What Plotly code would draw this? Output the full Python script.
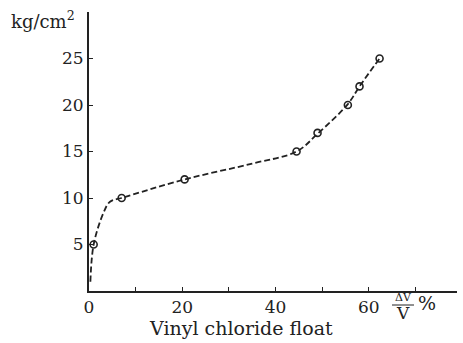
import plotly.graph_objects as go

# measured points (open circles)
pt_x = [1, 7, 20.5, 44.5, 49, 55.5, 58, 62.3]
pt_y = [5, 10, 12, 15, 17, 20, 22, 25]
# dashed curve
curve_x = [0.3, 1, 3.1, 4.5, 7, 20.5, 35, 44.5, 49, 55.5, 58, 62.3]
curve_y = [1.0, 5, 8.4, 9.6, 10, 12, 13.7, 15, 16.9, 20.1, 22, 25]

x_ticks = [0, 20, 40, 60]
x_ticklabels = ["0", "20", "40", "60"]
y_ticks = [5, 10, 15, 20, 25]
y_ticklabels = ["5", "10", "15", "20", "25"]

W, H = 463, 343
L, R, T, B = 89, 6, 12, 52
PW, PH = W - L - R, H - T - B
FONT = "DejaVu Serif"

def px(x):
    return (x - L) / PW

def py(y):
    return (H - B - y) / PH

fig = go.Figure()
fig.add_trace(go.Scatter(x=curve_x, y=curve_y, mode="lines",
                         line=dict(color="#222", width=1.8, dash="6px,3px", shape="spline", smoothing=1.0),
                         hoverinfo="skip", showlegend=False))
fig.add_trace(go.Scatter(x=pt_x, y=pt_y, mode="markers",
                         marker=dict(symbol="circle-open", size=7, color="#222", line=dict(width=1.6)),
                         showlegend=False))

fig.update_layout(
    width=W, height=H, margin=dict(l=L, r=R, t=T, b=B),
    paper_bgcolor="white", plot_bgcolor="white",
    font=dict(family=FONT, size=17, color="#222"),
    xaxis=dict(range=[0, 78.9], tickvals=x_ticks, ticktext=x_ticklabels,
               ticks="inside", ticklen=4, tickcolor="#222", showline=True, linecolor="#222", linewidth=2,
               minor=dict(dtick=10, tick0=0, ticks="inside", ticklen=4, tickcolor="#222"),
               showgrid=False, zeroline=False, tickfont=dict(family=FONT, size=17)),
    yaxis=dict(range=[0, 30], tickvals=y_ticks, ticktext=y_ticklabels,
               ticks="inside", ticklen=4, tickcolor="#222", showline=True, linecolor="#222", linewidth=2,
               showgrid=False, zeroline=False, tickfont=dict(family=FONT, size=17)),
    annotations=[
        dict(text="kg/cm<sup>2</sup>", xref="paper", yref="paper", x=px(9), y=py(20),
             xanchor="left", yanchor="middle", showarrow=False, font=dict(family=FONT, size=18)),
        dict(text="ΔV", xref="paper", yref="paper", x=px(403), y=py(297),
             xanchor="center", yanchor="middle", showarrow=False, font=dict(family=FONT, size=11)),
        dict(text="V", xref="paper", yref="paper", x=px(403), y=py(313),
             xanchor="center", yanchor="middle", showarrow=False, font=dict(family=FONT, size=17)),
        dict(text="%", xref="paper", yref="paper", x=px(427), y=py(303),
             xanchor="center", yanchor="middle", showarrow=False, font=dict(family=FONT, size=19)),
        dict(text="Vinyl chloride float", xref="paper", yref="paper", x=px(241), y=py(328),
             xanchor="center", yanchor="middle", showarrow=False, font=dict(family=FONT, size=19)),
    ],
    shapes=[
        dict(type="line", xref="paper", yref="paper", x0=px(392), x1=px(414), y0=py(305), y1=py(305),
             line=dict(color="#222", width=1)),
    ],
)

fig.write_html("out.html")
